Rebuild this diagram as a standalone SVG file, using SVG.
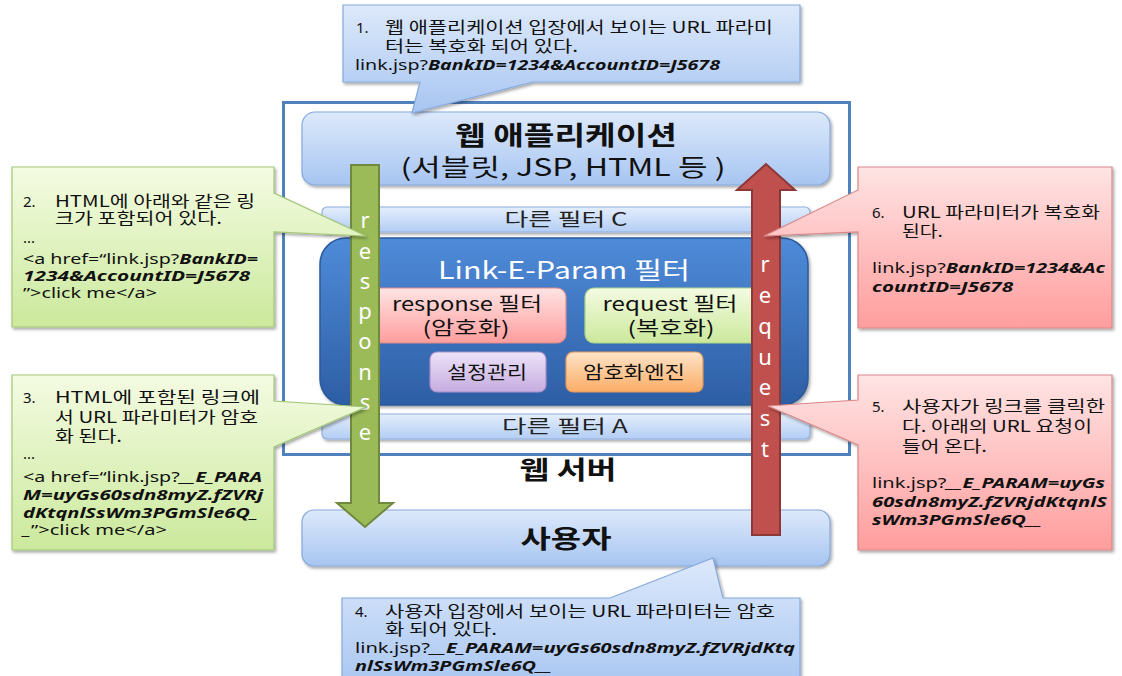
<svg xmlns="http://www.w3.org/2000/svg" width="1122" height="676" viewBox="0 0 1122 676">
<defs>
<linearGradient id="gBlue" x1="0" y1="0" x2="0" y2="1"><stop offset="0" stop-color="#dde9fb"/><stop offset="1" stop-color="#a7c5f1"/></linearGradient>
<linearGradient id="gFilt" x1="0" y1="0" x2="0" y2="1"><stop offset="0" stop-color="#e4eefc"/><stop offset="1" stop-color="#b3cdf4"/></linearGradient>
<linearGradient id="gGreen" x1="0" y1="0" x2="0" y2="1"><stop offset="0" stop-color="#f4fbe2"/><stop offset="1" stop-color="#cbe99c"/></linearGradient>
<linearGradient id="gPink" x1="0" y1="0" x2="0" y2="1"><stop offset="0" stop-color="#ffe4e4"/><stop offset="1" stop-color="#ff9d9d"/></linearGradient>
<linearGradient id="gPurple" x1="0" y1="0" x2="0" y2="1"><stop offset="0" stop-color="#eee3f9"/><stop offset="1" stop-color="#c5ace0"/></linearGradient>
<linearGradient id="gOrange" x1="0" y1="0" x2="0" y2="1"><stop offset="0" stop-color="#fee4c8"/><stop offset="1" stop-color="#fbad66"/></linearGradient>
<linearGradient id="gCore" x1="0" y1="0" x2="0" y2="1"><stop offset="0" stop-color="#4f8bd9"/><stop offset="1" stop-color="#2d5ea4"/></linearGradient>
<filter id="sh" x="-10%" y="-10%" width="120%" height="130%"><feDropShadow dx="1.5" dy="2" stdDeviation="1.6" flood-color="#000" flood-opacity="0.35"/></filter>
<style>
text{font-family:"Noto Sans","Noto Sans CJK KR",sans-serif;fill:#111}
.k{font-family:"Noto Sans CJK KR","Noto Sans",sans-serif;font-size:15.5px}
.cb{font-size:15px}
.bi{font-weight:bold;font-style:italic}
.blue{fill:url(#gBlue);stroke:#86a9dc;stroke-width:1.2}
.filt{fill:url(#gFilt);stroke:#8fb0e0;stroke-width:1.2}
.grn{fill:url(#gGreen);stroke:#a3c777;stroke-width:1.2}
.pnk{fill:url(#gPink);stroke:#d98889;stroke-width:1.2}
.ltr{font-size:22px;fill:#fff;text-anchor:middle}
.c{text-anchor:middle}
</style>
</defs>

<g id="web-server">
<rect x="283.5" y="102.5" width="566" height="352" fill="#fff" stroke="#4f81bd" stroke-width="3"/>
<text class="k c" x="568" y="479" style="font-size:25px" font-weight="bold" textLength="97" lengthAdjust="spacingAndGlyphs">웹 서버</text>
</g>

<g id="web-app">
<rect class="blue" x="302" y="112" width="528" height="73" rx="13" filter="url(#sh)"/>
<text class="k c" x="566" y="145" style="font-size:26px" font-weight="bold" textLength="222" lengthAdjust="spacingAndGlyphs">웹 애플리케이션</text>
<text class="k c" x="563" y="176" style="font-size:24px" textLength="325" lengthAdjust="spacingAndGlyphs">(서블릿, JSP, HTML 등 )</text>
</g>

<g id="filter-c">
<rect class="filt" x="322" y="207" width="488" height="25" rx="5" filter="url(#sh)"/>
<text class="k c" x="566" y="226" style="font-size:18px;fill:#222" textLength="123" lengthAdjust="spacingAndGlyphs">다른 필터 C</text>
</g>

<g id="link-e-param">
<rect x="320" y="238" width="488" height="167" rx="26" fill="url(#gCore)" stroke="#2b5a9c" stroke-width="1.5" filter="url(#sh)"/>
<text class="k c" x="564" y="279" style="font-size:24px;fill:#fff" textLength="252" lengthAdjust="spacingAndGlyphs">Link-E-Param 필터</text>
</g>

<g id="response-filter">
<rect x="372" y="288" width="194" height="55" rx="9" fill="url(#gPink)" stroke="#e08a8a" stroke-width="1.2"/>
<text class="k c" x="467" y="311" style="font-size:19px" textLength="150" lengthAdjust="spacingAndGlyphs">response 필터</text>
<text class="k c" x="466" y="335" style="font-size:19px" textLength="87" lengthAdjust="spacingAndGlyphs">(암호화)</text>
</g>

<g id="request-filter">
<rect x="585" y="288" width="178" height="55" rx="9" fill="url(#gGreen)" stroke="#b0d585" stroke-width="1.2"/>
<text class="k c" x="670" y="311" style="font-size:19px" textLength="135" lengthAdjust="spacingAndGlyphs">request 필터</text>
<text class="k c" x="671" y="335" style="font-size:19px" textLength="87" lengthAdjust="spacingAndGlyphs">(복호화)</text>
</g>

<g id="config">
<rect x="430" y="352" width="116" height="40" rx="7" fill="url(#gPurple)" stroke="#a98fc8" stroke-width="1.2"/>
<text class="k c" x="487" y="379" style="font-size:18px" textLength="80" lengthAdjust="spacingAndGlyphs">설정관리</text>
</g>

<g id="crypto-engine">
<rect x="566" y="352" width="137" height="40" rx="7" fill="url(#gOrange)" stroke="#e09a5c" stroke-width="1.2"/>
<text class="k c" x="634" y="379" style="font-size:18px" textLength="102" lengthAdjust="spacingAndGlyphs">암호화엔진</text>
</g>

<g id="filter-a">
<rect class="filt" x="322" y="414" width="488" height="25" rx="5" filter="url(#sh)"/>
<text class="k c" x="565" y="433" style="font-size:18px;fill:#222" textLength="126" lengthAdjust="spacingAndGlyphs">다른 필터 A</text>
</g>

<g id="user">
<rect class="blue" x="302" y="510" width="528" height="56" rx="12" filter="url(#sh)"/>
<text class="k c" x="566" y="548" style="font-size:25px" font-weight="bold" textLength="91" lengthAdjust="spacingAndGlyphs">사용자</text>
</g>

<g id="connectors">
<path d="M351,165 H379 V503 H393 L365,527 L337,503 H351 Z" fill="#9bbb59" stroke="#71893f" stroke-width="2"/>
<text class="ltr" x="365" y="228">r</text>
<text class="ltr" x="365" y="259">e</text>
<text class="ltr" x="365" y="289">s</text>
<text class="ltr" x="365" y="319">p</text>
<text class="ltr" x="365" y="349">o</text>
<text class="ltr" x="365" y="380">n</text>
<text class="ltr" x="365" y="410">s</text>
<text class="ltr" x="365" y="440">e</text>
<path d="M752,535 V190 H737 L766,164 L795,190 H780 V535 Z" fill="#c0504d" stroke="#8c3836" stroke-width="2"/>
<text class="ltr" x="765" y="272">r</text>
<text class="ltr" x="765" y="303">e</text>
<text class="ltr" x="765" y="334">q</text>
<text class="ltr" x="765" y="365">u</text>
<text class="ltr" x="765" y="395">e</text>
<text class="ltr" x="765" y="426">s</text>
<text class="ltr" x="765" y="457">t</text>
</g>

<g id="note-1">
<path class="blue" d="M343,5 H800 V82 H533 L412,113 L420,82 H343 Z" filter="url(#sh)"/>
<text class="cb" x="356" y="33">1.</text>
<text class="k" x="385" y="33" textLength="388" lengthAdjust="spacingAndGlyphs">웹 애플리케이션 입장에서 보이는 URL 파라미</text>
<text class="k" x="385" y="51.5" textLength="193" lengthAdjust="spacingAndGlyphs">터는 복호화 되어 있다.</text>
<text class="cb" x="355" y="70" textLength="365" lengthAdjust="spacingAndGlyphs">link.jsp?<tspan class="bi">BankID=1234&amp;AccountID=J5678</tspan></text>
</g>

<g id="note-2">
<path class="grn" d="M12,167 H274 V193 L366,236 L274,232 V327 H12 Z" filter="url(#sh)"/>
<text class="cb" x="23" y="207">2.</text>
<text class="k" x="55" y="207" textLength="200" lengthAdjust="spacingAndGlyphs">HTML에 아래와 같은 링</text>
<text class="k" x="55" y="224" textLength="167" lengthAdjust="spacingAndGlyphs">크가 포함되어 있다.</text>
<text class="cb" x="23" y="243">...</text>
<text class="cb" x="23" y="264" textLength="235" lengthAdjust="spacingAndGlyphs">&lt;a href=“link.jsp?<tspan class="bi">BankID=</tspan></text>
<text class="cb bi" x="23" y="281" textLength="227" lengthAdjust="spacingAndGlyphs">1234&amp;AccountID=J5678</text>
<text class="cb" x="23" y="298" textLength="134" lengthAdjust="spacingAndGlyphs">”&gt;click me&lt;/a&gt;</text>
</g>

<g id="note-3">
<path class="grn" d="M12,375 H274 V401 L366,407 L274,447 V550 H12 Z" filter="url(#sh)"/>
<text class="cb" x="23" y="403">3.</text>
<text class="k" x="55" y="403" textLength="205" lengthAdjust="spacingAndGlyphs">HTML에  포함된 링크에</text>
<text class="k" x="55" y="423" textLength="203" lengthAdjust="spacingAndGlyphs">서 URL 파라미터가 암호</text>
<text class="k" x="55" y="442" textLength="67" lengthAdjust="spacingAndGlyphs">화 된다.</text>
<text class="cb" x="23" y="459">...</text>
<text class="cb" x="23" y="482" textLength="239" lengthAdjust="spacingAndGlyphs">&lt;a href=“link.jsp?<tspan class="bi">__E_PARA</tspan></text>
<text class="cb bi" x="23" y="500" textLength="240" lengthAdjust="spacingAndGlyphs">M=uyGs60sdn8myZ.fZVRj</text>
<text class="cb bi" x="23" y="518" textLength="235" lengthAdjust="spacingAndGlyphs">dKtqnlSsWm3PGmSle6Q_</text>
<text class="cb" x="23" y="535" textLength="144" lengthAdjust="spacingAndGlyphs"><tspan class="bi">_</tspan>”&gt;click me&lt;/a&gt;</text>
</g>

<g id="note-6">
<path class="pnk" d="M858,167 H1112 V328 H858 V232 L764,236 L858,190 Z" filter="url(#sh)"/>
<text class="cb" x="872" y="218">6.</text>
<text class="k" x="902" y="218" textLength="198" lengthAdjust="spacingAndGlyphs">URL 파라미터가 복호화</text>
<text class="k" x="902" y="237" textLength="41" lengthAdjust="spacingAndGlyphs">된다.</text>
<text class="cb" x="872" y="273" textLength="233" lengthAdjust="spacingAndGlyphs">link.jsp?<tspan class="bi">BankID=1234&amp;Ac</tspan></text>
<text class="cb bi" x="872" y="292" textLength="141" lengthAdjust="spacingAndGlyphs">countID=J5678</text>
</g>

<g id="note-5">
<path class="pnk" d="M858,375 H1112 V550 H858 V445 L768,406 L858,400 Z" filter="url(#sh)"/>
<text class="cb" x="872" y="412">5.</text>
<text class="k" x="902" y="412" textLength="203" lengthAdjust="spacingAndGlyphs">사용자가 링크를 클릭한</text>
<text class="k" x="902" y="432" textLength="190" lengthAdjust="spacingAndGlyphs">다. 아래의 URL 요청이</text>
<text class="k" x="902" y="452" textLength="85" lengthAdjust="spacingAndGlyphs">들어 온다.</text>
<text class="cb" x="872" y="488" textLength="233" lengthAdjust="spacingAndGlyphs">link.jsp?<tspan class="bi">__E_PARAM=uyGs</tspan></text>
<text class="cb bi" x="872" y="507" textLength="235" lengthAdjust="spacingAndGlyphs">60sdn8myZ.fZVRjdKtqnlS</text>
<text class="cb bi" x="872" y="525" textLength="170" lengthAdjust="spacingAndGlyphs">sWm3PGmSle6Q__</text>
</g>

<g id="note-4">
<path class="blue" d="M342,598 H610 L713,558 L723,598 H800 V690 H342 Z" filter="url(#sh)"/>
<text class="cb" x="355" y="617">4.</text>
<text class="k" x="385" y="617" textLength="390" lengthAdjust="spacingAndGlyphs">사용자 입장에서 보이는 URL 파라미터는 암호</text>
<text class="k" x="385" y="635" textLength="112" lengthAdjust="spacingAndGlyphs">화 되어 있다.</text>
<text class="cb" x="355" y="653" textLength="440" lengthAdjust="spacingAndGlyphs">link.jsp?<tspan class="bi">__E_PARAM=uyGs60sdn8myZ.fZVRjdKtq</tspan></text>
<text class="cb bi" x="355" y="671" textLength="197" lengthAdjust="spacingAndGlyphs">nlSsWm3PGmSle6Q__</text>
</g>
</svg>
